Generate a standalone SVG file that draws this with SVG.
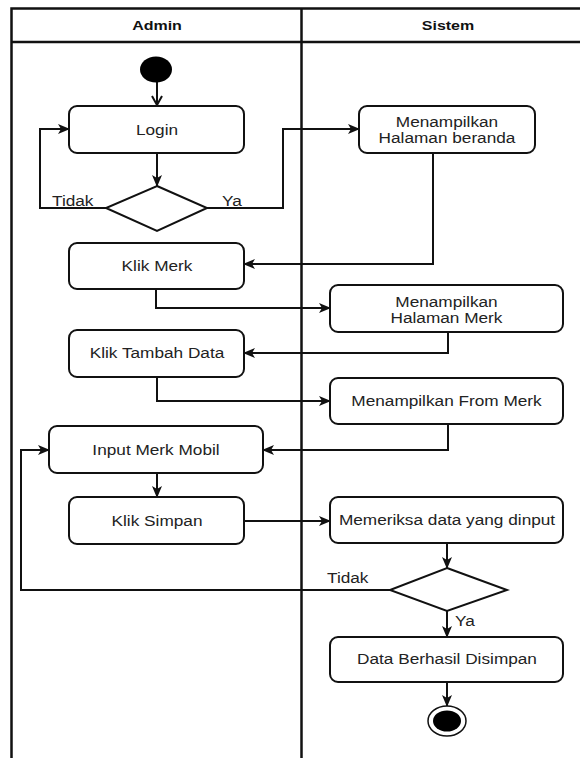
<svg xmlns="http://www.w3.org/2000/svg" width="580" height="758" viewBox="0 0 580 758">
<style>
.lane{fill:none;stroke:#111;stroke-width:2.5}
.box{fill:#fff;stroke:#111;stroke-width:2}
.dec{fill:#fff;stroke:#111;stroke-width:2}
.t{font-family:"Liberation Sans",Arial,sans-serif;font-size:14px;fill:#222;text-anchor:middle}
.h{font-family:"Liberation Sans",Arial,sans-serif;font-size:13px;font-weight:bold;fill:#111;text-anchor:middle}
.l{font-family:"Liberation Sans",Arial,sans-serif;font-size:14px;fill:#222;text-anchor:start}
.c{fill:none;stroke:#111;stroke-width:2}
</style>
<defs>
<marker id="arr" viewBox="0 0 12 10" markerWidth="12" markerHeight="10" refX="11" refY="5" orient="auto" markerUnits="userSpaceOnUse">
<path d="M0,0 L12,5 L0,10 L3,5 Z" fill="#111"/>
</marker>
<marker id="open" viewBox="0 0 12 12" markerWidth="12" markerHeight="12" refX="10" refY="6" orient="auto" markerUnits="userSpaceOnUse">
<path d="M1,1 L10,6 L1,11" fill="none" stroke="#111" stroke-width="2"/>
</marker>
</defs>
<rect width="580" height="758" fill="#fff"/>
<g id="pool">
<rect class="lane" x="11.5" y="8.5" width="585" height="762"/>
<line class="lane" x1="11.5" y1="42" x2="596" y2="42"/>
<line class="lane" x1="301.5" y1="8.5" x2="301.5" y2="770"/>
<text class="h" transform="translate(157 29.5) scale(1.23 1)">Admin</text>
<text class="h" transform="translate(448 29.5) scale(1.23 1)">Sistem</text>
</g>
<g id="connectors">
<path class="c" d="M157,82 V105" marker-end="url(#open)"/>
<path class="c" d="M157,153 V186" marker-end="url(#arr)"/>
<path class="c" d="M106,208 H40 V129 H69" marker-end="url(#arr)"/>
<path class="c" d="M207,208 H283 V129 H359" marker-end="url(#arr)"/>
<path class="c" d="M433,153 V264 H244" marker-end="url(#arr)"/>
<path class="c" d="M156,289 V308 H330" marker-end="url(#arr)"/>
<path class="c" d="M448,332 V353 H244" marker-end="url(#arr)"/>
<path class="c" d="M157,377 V401 H330" marker-end="url(#arr)"/>
<path class="c" d="M448,424 V450 H263" marker-end="url(#arr)"/>
<path class="c" d="M157,473 V497" marker-end="url(#arr)"/>
<path class="c" d="M244,521 H330" marker-end="url(#arr)"/>
<path class="c" d="M447,543 V568" marker-end="url(#arr)"/>
<path class="c" d="M390,590 H21 V450 H49" marker-end="url(#arr)"/>
<path class="c" d="M447,611 V637" marker-end="url(#arr)"/>
<path class="c" d="M447,682 V706" marker-end="url(#arr)"/>
<text class="l" transform="translate(52 206) scale(1.23 1)">Tidak</text>
<text class="l" transform="translate(222 206) scale(1.23 1)">Ya</text>
<text class="l" transform="translate(327 583) scale(1.23 1)">Tidak</text>
<text class="l" transform="translate(455 625.5) scale(1.23 1)">Ya</text>
</g>
<g id="start"><ellipse cx="156" cy="69.5" rx="16" ry="13" fill="#000"/></g>
<g id="login"><rect class="box" x="69" y="106" width="175" height="47" rx="8"/><text class="t" transform="translate(157 135) scale(1.23 1)">Login</text></g>
<g id="decision1"><polygon class="dec" points="157,186 207,208 157,231 106,208"/></g>
<g id="beranda"><rect class="box" x="359" y="106" width="176" height="47" rx="8"/><text class="t" transform="translate(447 126.5) scale(1.23 1)">Menampilkan</text><text class="t" transform="translate(447 143) scale(1.23 1)">Halaman beranda</text></g>
<g id="klikMerk"><rect class="box" x="69" y="243" width="175" height="46" rx="8"/><text class="t" transform="translate(157 271) scale(1.23 1)">Klik Merk</text></g>
<g id="halamanMerk"><rect class="box" x="330" y="285" width="233" height="47" rx="8"/><text class="t" transform="translate(446.5 306.5) scale(1.23 1)">Menampilkan</text><text class="t" transform="translate(446.5 323) scale(1.23 1)">Halaman Merk</text></g>
<g id="tambahData"><rect class="box" x="69" y="330" width="175" height="47" rx="8"/><text class="t" transform="translate(157 358) scale(1.23 1)">Klik Tambah Data</text></g>
<g id="fromMerk"><rect class="box" x="330" y="378" width="233" height="46" rx="8"/><text class="t" transform="translate(446.5 406) scale(1.23 1)">Menampilkan From Merk</text></g>
<g id="inputMerk"><rect class="box" x="49" y="426" width="214" height="47" rx="8"/><text class="t" transform="translate(156 455) scale(1.23 1)">Input Merk Mobil</text></g>
<g id="klikSimpan"><rect class="box" x="69" y="497" width="175" height="47" rx="8"/><text class="t" transform="translate(157 525.5) scale(1.23 1)">Klik Simpan</text></g>
<g id="memeriksa"><rect class="box" x="330" y="497" width="233" height="46" rx="8"/><text class="t" transform="translate(447 525) scale(1.23 1)">Memeriksa data yang dinput</text></g>
<g id="decision2"><polygon class="dec" points="447,568 507,590 447,611 390,590"/></g>
<g id="berhasil"><rect class="box" x="330" y="637" width="233" height="45" rx="8"/><text class="t" transform="translate(447 664) scale(1.23 1)">Data Berhasil Disimpan</text></g>
<g id="end"><ellipse cx="447" cy="721" rx="19" ry="15" fill="#fff" stroke="#111" stroke-width="1.5"/><ellipse cx="447" cy="721" rx="14" ry="10.5" fill="#000"/></g>
</svg>
